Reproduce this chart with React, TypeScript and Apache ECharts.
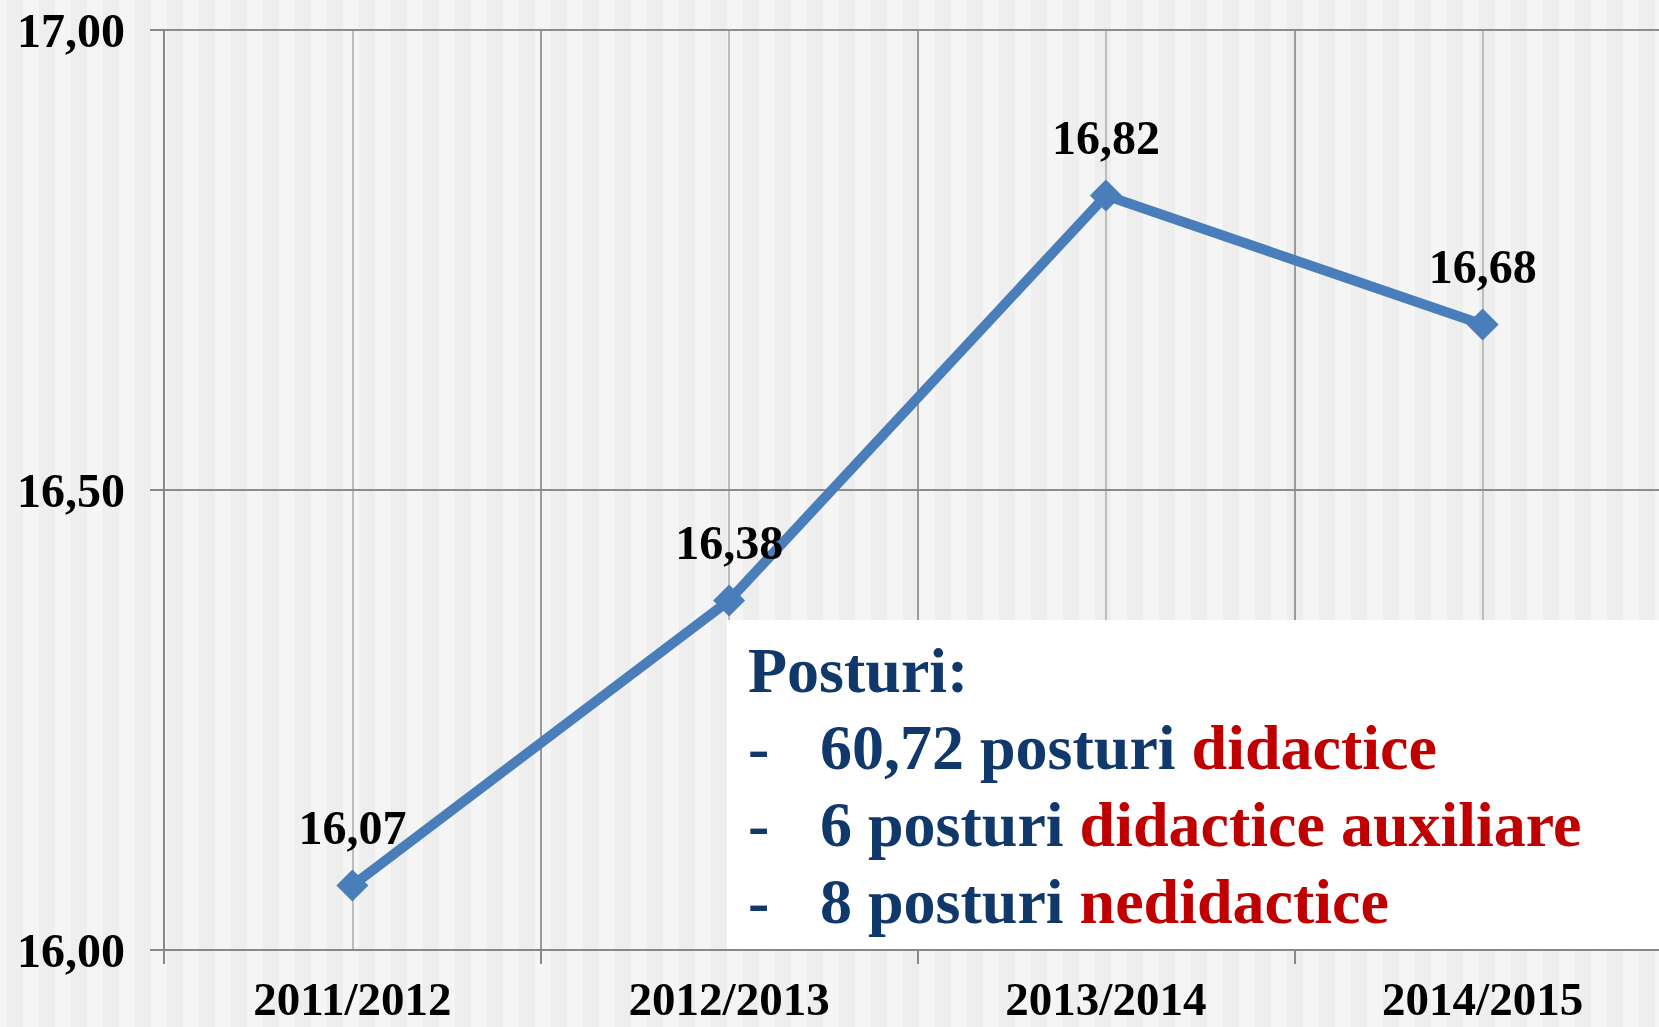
import React, { useEffect, useRef } from "react";
import * as echarts from "echarts";

const categories = ["2011/2012", "2012/2013", "2013/2014", "2014/2015"];
const values = [16.07, 16.38, 16.82, 16.68];
const yTicks = { min: 16, max: 17, interval: 0.5 };
const boxTitle = "Posturi:";
const boxLines = [
  ["60,72 posturi ", "didactice"],
  ["6 posturi ", "didactice auxiliare"],
  ["8 posturi ", "nedidactice"],
];

const FONT = '"Liberation Serif", "Times New Roman", serif';
const NAVY = "#10386b";
const RED = "#c00000";
const fmt = (v: number) => v.toFixed(2).replace(".", ",");

export default function App() {
  const ref = useRef<HTMLDivElement>(null);
  useEffect(() => {
    if (!ref.current) return;
    const chart = echarts.init(ref.current, undefined, { renderer: "svg" });
    const mids = [670, 747, 824, 901];
    const FS = 64;
    const graphics: any[] = [
      {
        type: "rect",
        z: 1,
        shape: { x: 727, y: 620, width: 960, height: 329 },
        style: { fill: "#ffffff" },
      },
      {
        type: "text",
        z: 10,
        x: 748,
        y: mids[0],
        style: {
          text: boxTitle,
          fill: NAVY,
          fontFamily: FONT,
          fontWeight: "bold",
          fontSize: FS,
          verticalAlign: "middle",
          align: "left",
        },
      },
    ];
    boxLines.forEach((ln, i) => {
      graphics.push({
        type: "text",
        z: 10,
        x: 748,
        y: mids[i + 1],
        style: {
          text: "-",
          fill: NAVY,
          fontFamily: FONT,
          fontWeight: "bold",
          fontSize: FS,
          verticalAlign: "middle",
          align: "left",
        },
      });
      graphics.push({
        type: "text",
        z: 10,
        x: 820,
        y: mids[i + 1],
        style: {
          text: `{n|${ln[0]}}{r|${ln[1]}}`,
          fontFamily: FONT,
          fontWeight: "bold",
          fontSize: FS,
          verticalAlign: "middle",
          align: "left",
          rich: {
            n: { fill: NAVY, fontFamily: FONT, fontWeight: "bold", fontSize: FS },
            r: { fill: RED, fontFamily: FONT, fontWeight: "bold", fontSize: FS },
          },
        },
      });
    });

    chart.setOption({
      animation: false,
      backgroundColor: "transparent",
      grid: {
        left: 164,
        top: 30,
        width: 1507,
        height: 920,
        containLabel: false,
        outerBoundsMode: "none",
      },
      xAxis: [
        {
          type: "category",
          data: categories,
          boundaryGap: true,
          axisLine: { show: true, lineStyle: { color: "#888888", width: 2 } },
          axisTick: { show: true, length: 14, lineStyle: { color: "#888888", width: 2 } },
          axisLabel: {
            margin: 29,
            lineHeight: 40,
            color: "#000",
            fontFamily: FONT,
            fontWeight: "bold",
            fontSize: 47,
          },
          splitLine: { show: false },
          z: 3,
        },
        {
          type: "value",
          min: 0,
          max: 8,
          interval: 1,
          position: "bottom",
          axisLine: { show: false },
          axisTick: { show: false },
          axisLabel: { show: false },
          splitLine: {
            show: true,
            lineStyle: { color: ["#9a9a9a", "#bdbdbd"], width: 2 },
          },
        },
      ],
      yAxis: {
        type: "value",
        min: yTicks.min,
        max: yTicks.max,
        interval: yTicks.interval,
        axisLine: { show: true, lineStyle: { color: "#888888", width: 2 } },
        axisTick: { show: true, length: 14, lineStyle: { color: "#888888", width: 2 } },
        axisLabel: {
          margin: 39,
          color: "#000",
          fontFamily: FONT,
          fontWeight: "bold",
          fontSize: 48,
          formatter: (v: number) => fmt(v),
        },
        splitLine: { show: true, lineStyle: { color: "#8c8c8c", width: 2 } },
        z: 3,
      },
      graphic: graphics,
      series: [
        {
          type: "line",
          xAxisIndex: 0,
          yAxisIndex: 0,
          data: values,
          z: 5,
          symbol: "diamond",
          symbolSize: 32,
          lineStyle: { color: "#4a7ebb", width: 10 },
          itemStyle: { color: "#4a7ebb" },
          label: {
            show: true,
            position: "top",
            distance: 18,
            color: "#000",
            fontFamily: FONT,
            fontWeight: "bold",
            fontSize: 48,
            formatter: (p: any) => fmt(p.value),
          },
        },
      ],
    });
    return () => chart.dispose();
  }, []);

  return (
    <div
      style={{
        position: "fixed",
        left: 0,
        top: 0,
        width: 1659,
        height: 1027,
        overflow: "hidden",
        backgroundImage:
          "repeating-linear-gradient(90deg, #eeeeee 0px, #eeeeee 16px, #f5f5f5 16px, #f5f5f5 32px)",
        backgroundPosition: "7px 0",
      }}
    >
      <div ref={ref} style={{ width: 1659, height: 1027 }} />
    </div>
  );
}
